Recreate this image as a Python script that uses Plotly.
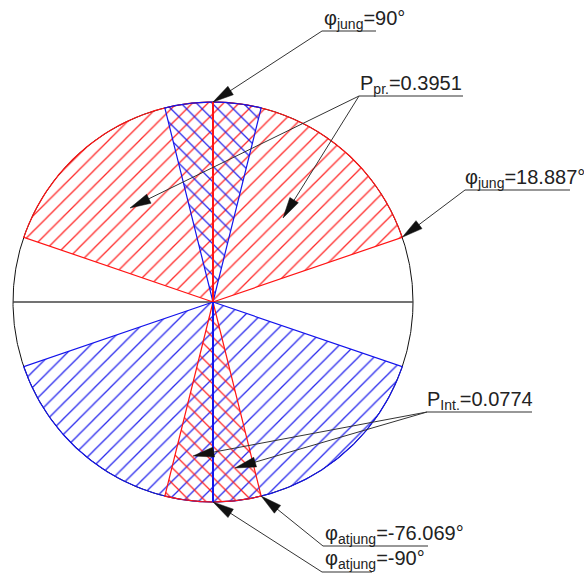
import numpy as np
import plotly.graph_objects as go

# Angles (degrees) and probabilities shown on the diagram
phi_jung = [90.0, 18.887]          # upper reference / sector edge
phi_atjung = [-76.069, -90.0]      # lower wedge edge / lower reference
P_pr = 0.3951
P_int = 0.0774

# Drawing geometry (pixels)
W, H = 584, 573
CX, CY, R = 213, 302, 200

RED = "rgb(255,20,20)"
BLUE = "rgb(20,20,235)"
INK = "#333333"


def pt(deg, r=1.0):
    a = np.radians(deg)
    return CX + R * r * np.cos(a), CY - R * r * np.sin(a)


def sector(a1, a2, n=240):
    t = np.linspace(a1, a2, n)
    xs, ys = pt(t)
    return [CX, *xs, CX], [CY, *ys, CY]


def arc(a1, a2, n=240):
    t = np.linspace(a1, a2, n)
    return pt(t)


edge = phi_jung[1]
wedge = phi_atjung[0]
# red: upper wide sector + lower narrow wedge; blue: their mirror through the centre
red_big = (edge, 180 - edge)
red_narrow = (2 * phi_atjung[1] - wedge, wedge)
blue_big = (red_big[0] + 180, red_big[1] + 180)
blue_narrow = (red_narrow[0] + 180, red_narrow[1] + 180)

fig = go.Figure()


def hatched(span, color, shape):
    xs, ys = sector(*span)
    fig.add_trace(go.Scatter(
        x=xs, y=ys, mode="lines", fill="toself",
        fillcolor="rgba(0,0,0,0)", line=dict(width=0, color=color),
        fillpattern=dict(shape=shape, fgcolor=color, fgopacity=0.9,
                         bgcolor="rgba(0,0,0,0)", size=11, solidity=0.12),
        hoverinfo="skip", showlegend=False))


hatched(red_big, RED, "/")
hatched(blue_big, BLUE, "/")
hatched(blue_narrow, BLUE, "\\")
hatched(red_narrow, RED, "\\")

# full circle outline and horizontal diameter
cx_, cy_ = arc(0, 360, 720)
fig.add_trace(go.Scatter(x=cx_, y=cy_, mode="lines", line=dict(color="#111", width=1),
                         hoverinfo="skip", showlegend=False))
hx, hy = pt(np.array([180.0, 0.0]))
fig.add_trace(go.Scatter(x=hx, y=hy, mode="lines", line=dict(color="#444", width=1.6),
                         hoverinfo="skip", showlegend=False))


def outline(span, color):
    xs, ys = sector(*span)
    fig.add_trace(go.Scatter(x=xs, y=ys, mode="lines", line=dict(color=color, width=1.2),
                             hoverinfo="skip", showlegend=False))


outline(red_big, RED)
outline(blue_big, BLUE)
outline(blue_narrow, BLUE)
outline(red_narrow, RED)

# vertical axis: red upward, blue downward
for ang, col in [(phi_jung[0], RED), (phi_atjung[1], BLUE)]:
    vx, vy = pt(ang)
    fig.add_trace(go.Scatter(x=[CX, vx], y=[CY, vy], mode="lines",
                             line=dict(color=col, width=2),
                             hoverinfo="skip", showlegend=False))

shapes = []
annotations = []


def arrow(tail, tip, L=21, hw=5):
    tx, ty = tail
    px, py = tip
    dx, dy = px - tx, py - ty
    d = np.hypot(dx, dy)
    ux, uy = dx / d, dy / d
    bx, by = px - L * ux, py - L * uy
    nx, ny = -uy, ux
    shapes.append(dict(type="line", x0=tx, y0=ty, x1=bx + 3 * ux, y1=by + 3 * uy,
                       line=dict(color=INK, width=1), layer="above"))
    shapes.append(dict(type="path",
                       path=f"M{px:.2f},{py:.2f} L{bx + hw * nx:.2f},{by + hw * ny:.2f} "
                            f"L{bx - hw * nx:.2f},{by - hw * ny:.2f} Z",
                       fillcolor="#111", line=dict(color="#111", width=0.5), layer="above"))


def label(text, tx, base, ux0, ux1, uy, tips):
    annotations.append(dict(x=tx, y=base, xref="x", yref="y", text=text,
                            showarrow=False, xanchor="left", yanchor="bottom",
                            borderpad=0,
                            font=dict(family="Liberation Sans, Arial", size=20, color="#222")))
    shapes.append(dict(type="line", x0=ux0, y0=uy, x1=ux1, y1=uy,
                       line=dict(color=INK, width=1.2), layer="above"))
    for tip in tips:
        arrow((ux0, uy), tip)


def fmt(v):
    return f"{v:g}"


label(f"φ<sub>jung</sub>={fmt(phi_jung[0])}°", 323, 33, 322, 376, 31, [pt(phi_jung[0])])
label(f"P<sub>pr.</sub>={P_pr:.4f}", 359, 98, 359, 463, 96, [(130, 208), (283, 218)])
label(f"φ<sub>jung</sub>={fmt(phi_jung[1])}°", 464, 192, 465, 570, 190, [pt(phi_jung[1])])
label(f"P<sub>Int.</sub>={P_int:.4f}", 426, 414, 427, 532, 412, [(193, 456), (235, 468)])
label(f"φ<sub>atjung</sub>={fmt(phi_atjung[0])}°", 324, 548, 323, 428, 546, [pt(phi_atjung[0])])
label(f"φ<sub>atjung</sub>={fmt(phi_atjung[1])}°", 324, 572.5, 322, 372, 572, [pt(phi_atjung[1])])

fig.update_layout(
    width=W, height=H, margin=dict(l=0, r=0, t=0, b=0),
    paper_bgcolor="white", plot_bgcolor="white",
    xaxis=dict(range=[0, W], visible=False, showgrid=False, zeroline=False, fixedrange=True),
    yaxis=dict(range=[H, 0], visible=False, showgrid=False, zeroline=False, fixedrange=True),
    shapes=shapes, annotations=annotations, showlegend=False,
)

fig.write_html("out.html")
